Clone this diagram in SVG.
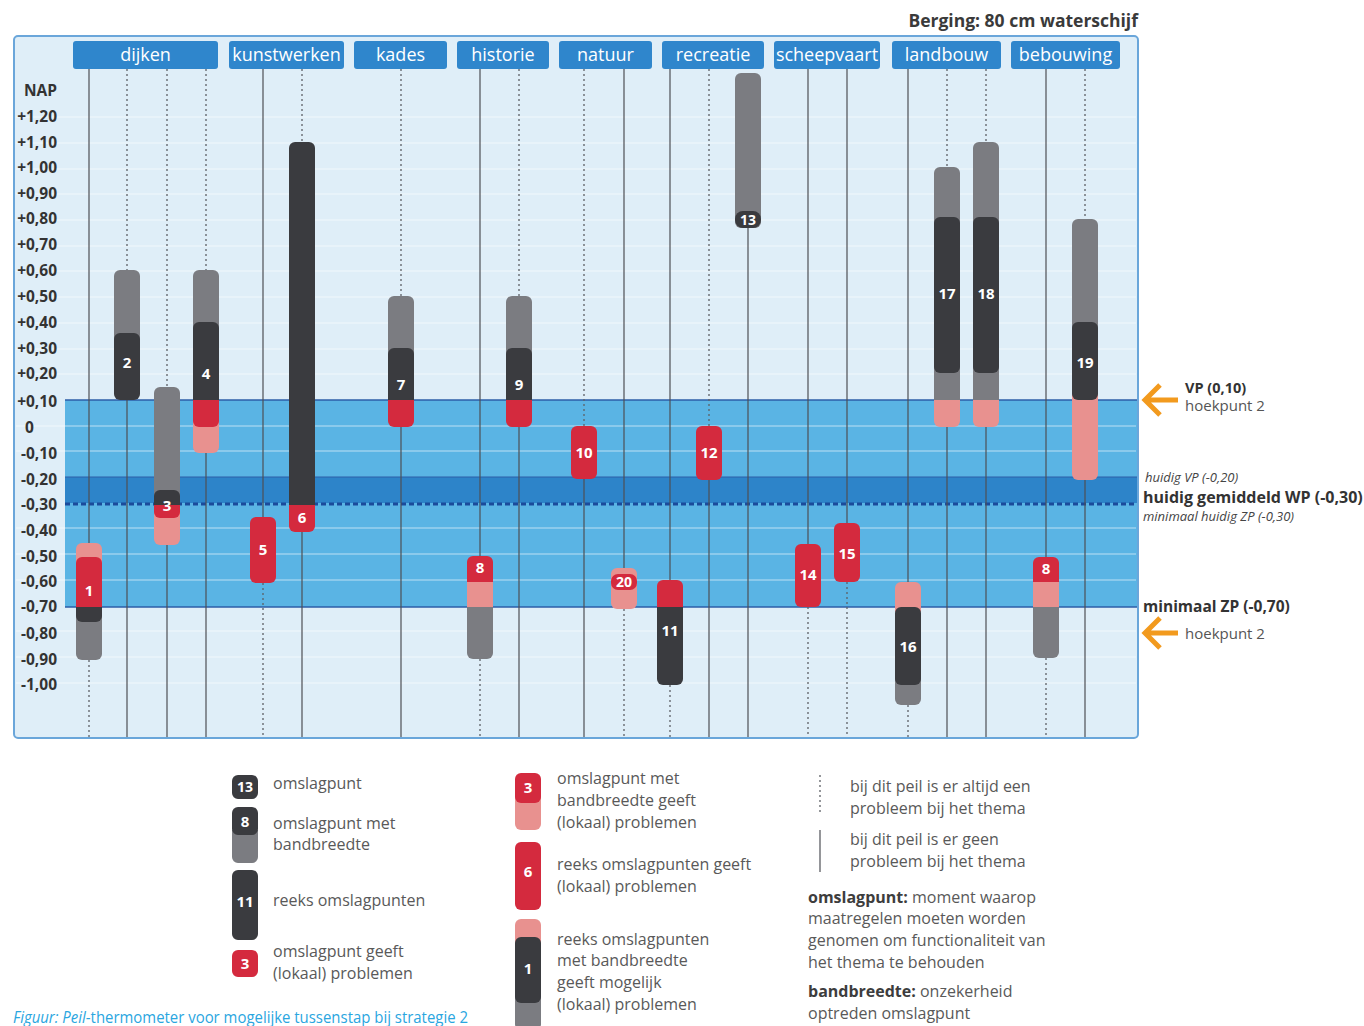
<svg xmlns="http://www.w3.org/2000/svg" width="1364" height="1026" viewBox="0 0 1364 1026">
<style>
text{font-family:"Open Sans","Noto Sans","Liberation Sans",sans-serif}
.tab{fill:#2f86cc}
.tabt{fill:#fff;font-size:18px;text-anchor:middle}
.ax{fill:#333;font-size:15.5px;font-weight:bold;text-anchor:end}
.num{fill:#fff;font-size:15px;font-weight:bold;text-anchor:middle}
.g{fill:#7b7c81}.d{fill:#3a3b3f}.r{fill:#d42a3e}.p{fill:#e8918f}
.ls{stroke:#4d4f55;stroke-width:1.2;fill:none}
.ld{stroke:#5d6066;stroke-width:1.3;stroke-dasharray:2 3;fill:none}
.lg{fill:#595959;font-size:16px}
.lgb{fill:#3d3d3d;font-weight:bold}
.rl{fill:#333;font-size:15.5px;font-weight:bold}
.rs{fill:#555;font-size:15px}
.ri{fill:#444;font-size:13px;font-style:italic}
.arr{stroke:#f29a1e;stroke-width:5;fill:none}
.stripe{stroke:#fff;stroke-opacity:0.4;stroke-width:1.5}
</style>

<!-- frame & background -->
<g id="chart-bg">
<rect x="14" y="36" width="1124" height="702" rx="4" fill="#dfeef8" stroke="#6aa6da" stroke-width="2"/>
<rect x="65" y="400" width="1072" height="207" fill="#5ab4e4"/>
<rect x="65" y="477" width="1072" height="26" fill="#2d84c9"/>
<g class="stripe">
<line x1="16" y1="117" x2="1136" y2="117"/><line x1="16" y1="143" x2="1136" y2="143"/>
<line x1="16" y1="169" x2="1136" y2="169"/><line x1="16" y1="194" x2="1136" y2="194"/>
<line x1="16" y1="220" x2="1136" y2="220"/><line x1="16" y1="246" x2="1136" y2="246"/>
<line x1="16" y1="271" x2="1136" y2="271"/><line x1="16" y1="297" x2="1136" y2="297"/>
<line x1="16" y1="323" x2="1136" y2="323"/><line x1="16" y1="349" x2="1136" y2="349"/>
<line x1="16" y1="374" x2="1136" y2="374"/><line x1="16" y1="426" x2="1136" y2="426"/>
<line x1="16" y1="451" x2="1136" y2="451"/><line x1="16" y1="528" x2="1136" y2="528"/>
<line x1="16" y1="554" x2="1136" y2="554"/><line x1="16" y1="580" x2="1136" y2="580"/>
<line x1="16" y1="631" x2="1136" y2="631"/><line x1="16" y1="657" x2="1136" y2="657"/>
<line x1="16" y1="683" x2="1136" y2="683"/>
</g>
<line x1="65" y1="400" x2="1137" y2="400" stroke="#2c5ea8" stroke-width="1.5"/>
<line x1="65" y1="477" x2="1137" y2="477" stroke="#2c5ea8" stroke-width="1"/>
<line x1="65" y1="607" x2="1137" y2="607" stroke="#2c5ea8" stroke-width="1.5"/>
<line x1="65" y1="504" x2="1137" y2="504" stroke="#1b4b9b" stroke-width="3" stroke-dasharray="5 3"/>
</g>

<!-- axis labels -->
<g id="axis">
<text class="ax" x="57" y="96">NAP</text>
<text class="ax" x="57" y="122">+1,20</text>
<text class="ax" x="57" y="148">+1,10</text>
<text class="ax" x="57" y="173">+1,00</text>
<text class="ax" x="57" y="199">+0,90</text>
<text class="ax" x="57" y="224">+0,80</text>
<text class="ax" x="57" y="250">+0,70</text>
<text class="ax" x="57" y="276">+0,60</text>
<text class="ax" x="57" y="302">+0,50</text>
<text class="ax" x="57" y="328">+0,40</text>
<text class="ax" x="57" y="354">+0,30</text>
<text class="ax" x="57" y="379">+0,20</text>
<text class="ax" x="57" y="407">+0,10</text>
<text class="ax" x="25" y="433" style="text-anchor:start">0</text>
<text class="ax" x="57" y="459">-0,10</text>
<text class="ax" x="57" y="485">-0,20</text>
<text class="ax" x="57" y="510">-0,30</text>
<text class="ax" x="57" y="536">-0,40</text>
<text class="ax" x="57" y="562">-0,50</text>
<text class="ax" x="57" y="587">-0,60</text>
<text class="ax" x="57" y="612">-0,70</text>
<text class="ax" x="57" y="639">-0,80</text>
<text class="ax" x="57" y="665">-0,90</text>
<text class="ax" x="57" y="690">-1,00</text>
</g>

<!-- theme tabs -->
<g id="tabs">
<rect class="tab" x="73" y="41" width="145" height="28" rx="3"/><text class="tabt" x="145.5" y="61">dijken</text>
<rect class="tab" x="229" y="41" width="115" height="28" rx="3"/><text class="tabt" x="286.5" y="61">kunstwerken</text>
<rect class="tab" x="354" y="41" width="93" height="28" rx="3"/><text class="tabt" x="400.5" y="61">kades</text>
<rect class="tab" x="457" y="41" width="92" height="28" rx="3"/><text class="tabt" x="503" y="61">historie</text>
<rect class="tab" x="559" y="41" width="93" height="28" rx="3"/><text class="tabt" x="605.5" y="61">natuur</text>
<rect class="tab" x="662" y="41" width="102" height="28" rx="3"/><text class="tabt" x="713" y="61">recreatie</text>
<rect class="tab" x="774" y="41" width="106" height="28" rx="3"/><text class="tabt" x="827" y="61">scheepvaart</text>
<rect class="tab" x="892" y="41" width="109" height="28" rx="3"/><text class="tabt" x="946.5" y="61">landbouw</text>
<rect class="tab" x="1011" y="41" width="109" height="28" rx="3"/><text class="tabt" x="1065.5" y="61">bebouwing</text>
</g>

<!-- connectors: vertical theme lines -->
<g id="connectors">
<line class="ls" x1="89" y1="69" x2="89" y2="543"/><line class="ld" x1="89" y1="660" x2="89" y2="737"/>
<line class="ld" x1="127" y1="69" x2="127" y2="270"/><line class="ls" x1="127" y1="400" x2="127" y2="737"/>
<line class="ld" x1="167" y1="69" x2="167" y2="387"/><line class="ls" x1="167" y1="545" x2="167" y2="737"/>
<line class="ld" x1="206" y1="69" x2="206" y2="270"/><line class="ls" x1="206" y1="453" x2="206" y2="737"/>
<line class="ls" x1="263" y1="69" x2="263" y2="517"/><line class="ld" x1="263" y1="583" x2="263" y2="737"/>
<line class="ld" x1="302" y1="69" x2="302" y2="142"/><line class="ls" x1="302" y1="532" x2="302" y2="737"/>
<line class="ld" x1="401" y1="69" x2="401" y2="296"/><line class="ls" x1="401" y1="427" x2="401" y2="737"/>
<line class="ls" x1="480" y1="69" x2="480" y2="556"/><line class="ld" x1="480" y1="659" x2="480" y2="737"/>
<line class="ld" x1="519" y1="69" x2="519" y2="296"/><line class="ls" x1="519" y1="427" x2="519" y2="737"/>
<line class="ld" x1="584" y1="69" x2="584" y2="426"/><line class="ls" x1="584" y1="479" x2="584" y2="737"/>
<line class="ls" x1="624" y1="69" x2="624" y2="568"/><line class="ld" x1="624" y1="609" x2="624" y2="737"/>
<line class="ls" x1="670" y1="69" x2="670" y2="580"/><line class="ld" x1="670" y1="685" x2="670" y2="737"/>
<line class="ld" x1="709" y1="69" x2="709" y2="426"/><line class="ls" x1="709" y1="480" x2="709" y2="737"/>
<line class="ls" x1="748" y1="228" x2="748" y2="737"/>
<line class="ls" x1="808" y1="69" x2="808" y2="544"/><line class="ld" x1="808" y1="607" x2="808" y2="737"/>
<line class="ls" x1="847" y1="69" x2="847" y2="523"/><line class="ld" x1="847" y1="582" x2="847" y2="737"/>
<line class="ls" x1="908" y1="69" x2="908" y2="582"/><line class="ld" x1="908" y1="705" x2="908" y2="737"/>
<line class="ld" x1="947" y1="69" x2="947" y2="167"/><line class="ls" x1="947" y1="427" x2="947" y2="737"/>
<line class="ld" x1="986" y1="69" x2="986" y2="142"/><line class="ls" x1="986" y1="427" x2="986" y2="737"/>
<line class="ls" x1="1046" y1="69" x2="1046" y2="557"/><line class="ld" x1="1046" y1="658" x2="1046" y2="737"/>
<line class="ld" x1="1085" y1="69" x2="1085" y2="219"/><line class="ls" x1="1085" y1="480" x2="1085" y2="737"/>
</g>

<!-- bars -->
<g id="bar-1">
<path class="p" d="M76 563V549a6 6 0 0 1 6-6h14a6 6 0 0 1 6 6V563Z"/>
<path class="g" d="M76 614H102V654a6 6 0 0 1-6 6h-14a6 6 0 0 1-6-6Z"/>
<path class="r" d="M76 607V563a6 6 0 0 1 6-6h14a6 6 0 0 1 6 6V607Z"/>
<path class="d" d="M76 607H102V616a6 6 0 0 1-6 6h-14a6 6 0 0 1-6-6Z"/>
<text class="num" x="89" y="596">1</text>
</g>
<g id="bar-2">
<path class="g" d="M114 340V276a6 6 0 0 1 6-6h14a6 6 0 0 1 6 6V340Z"/>
<rect class="d" x="114" y="333" width="26" height="67" rx="6"/>
<text class="num" x="127" y="368">2</text>
</g>
<g id="bar-3">
<path class="g" d="M154 497V393a6 6 0 0 1 6-6h14a6 6 0 0 1 6 6V497Z"/>
<path class="p" d="M154 512H180V539a6 6 0 0 1-6 6h-14a6 6 0 0 1-6-6Z"/>
<path class="d" d="M154 506V496a6 6 0 0 1 6-6h14a6 6 0 0 1 6 6V506Z"/>
<path class="r" d="M154 505H180V512a6 6 0 0 1-6 6h-14a6 6 0 0 1-6-6Z"/>
<text class="num" x="167" y="511">3</text>
</g>
<g id="bar-4">
<path class="g" d="M193 330V276a6 6 0 0 1 6-6h14a6 6 0 0 1 6 6V330Z"/>
<path class="p" d="M193 420H219V447a6 6 0 0 1-6 6h-14a6 6 0 0 1-6-6Z"/>
<path class="d" d="M193 400V328a6 6 0 0 1 6-6h14a6 6 0 0 1 6 6V400Z"/>
<path class="r" d="M193 400H219V421a6 6 0 0 1-6 6h-14a6 6 0 0 1-6-6Z"/>
<text class="num" x="206" y="379">4</text>
</g>
<g id="bar-5">
<rect class="r" x="250" y="517" width="26" height="66" rx="6"/>
<text class="num" x="263" y="555">5</text>
</g>
<g id="bar-6">
<path class="d" d="M289 505V148a6 6 0 0 1 6-6h14a6 6 0 0 1 6 6V505Z"/>
<path class="r" d="M289 505H315V526a6 6 0 0 1-6 6h-14a6 6 0 0 1-6-6Z"/>
<text class="num" x="302" y="523">6</text>
</g>
<g id="bar-7">
<path class="g" d="M388 355V302a6 6 0 0 1 6-6h14a6 6 0 0 1 6 6V355Z"/>
<path class="d" d="M388 400V354a6 6 0 0 1 6-6h14a6 6 0 0 1 6 6V400Z"/>
<path class="r" d="M388 400H414V421a6 6 0 0 1-6 6h-14a6 6 0 0 1-6-6Z"/>
<text class="num" x="401" y="390">7</text>
</g>
<g id="bar-8a">
<path class="r" d="M467 582V562a6 6 0 0 1 6-6h14a6 6 0 0 1 6 6V582Z"/>
<rect class="p" x="467" y="582" width="26" height="25"/>
<path class="g" d="M467 607H493V653a6 6 0 0 1-6 6h-14a6 6 0 0 1-6-6Z"/>
<text class="num" x="480" y="573">8</text>
</g>
<g id="bar-9">
<path class="g" d="M506 355V302a6 6 0 0 1 6-6h14a6 6 0 0 1 6 6V355Z"/>
<path class="d" d="M506 400V354a6 6 0 0 1 6-6h14a6 6 0 0 1 6 6V400Z"/>
<path class="r" d="M506 400H532V421a6 6 0 0 1-6 6h-14a6 6 0 0 1-6-6Z"/>
<text class="num" x="519" y="390">9</text>
</g>
<g id="bar-10">
<rect class="r" x="571" y="426" width="26" height="53" rx="6"/>
<text class="num" x="584" y="458">10</text>
</g>
<g id="bar-20">
<rect class="p" x="611" y="568" width="26" height="41" rx="6"/>
<rect class="r" x="611" y="574" width="26" height="16" rx="7"/>
<text class="num" x="624" y="587" style="font-size:14px">20</text>
</g>
<g id="bar-11">
<path class="r" d="M657 612V586a6 6 0 0 1 6-6h14a6 6 0 0 1 6 6V612Z"/>
<path class="d" d="M657 607H683V679a6 6 0 0 1-6 6h-14a6 6 0 0 1-6-6Z"/>
<text class="num" x="670" y="636">11</text>
</g>
<g id="bar-12">
<rect class="r" x="696" y="426" width="26" height="54" rx="6"/>
<text class="num" x="709" y="458">12</text>
</g>
<g id="bar-13">
<rect class="g" x="735" y="73" width="26" height="155" rx="6"/>
<rect class="d" x="735" y="211" width="26" height="17" rx="8"/>
<text class="num" x="748" y="225" style="font-size:14px">13</text>
</g>
<g id="bar-14">
<rect class="r" x="795" y="544" width="26" height="63" rx="6"/>
<text class="num" x="808" y="580">14</text>
</g>
<g id="bar-15">
<rect class="r" x="834" y="523" width="26" height="59" rx="6"/>
<text class="num" x="847" y="559">15</text>
</g>
<g id="bar-16">
<path class="p" d="M895 612V588a6 6 0 0 1 6-6h14a6 6 0 0 1 6 6V612Z"/>
<path class="g" d="M895 678H921V699a6 6 0 0 1-6 6h-14a6 6 0 0 1-6-6Z"/>
<rect class="d" x="895" y="607" width="26" height="78" rx="6"/>
<text class="num" x="908" y="652">16</text>
</g>
<g id="bar-17">
<path class="g" d="M934 400V173a6 6 0 0 1 6-6h14a6 6 0 0 1 6 6V400Z"/>
<path class="p" d="M934 400H960V421a6 6 0 0 1-6 6h-14a6 6 0 0 1-6-6Z"/>
<rect class="d" x="934" y="217" width="26" height="156" rx="6"/>
<text class="num" x="947" y="299">17</text>
</g>
<g id="bar-18">
<path class="g" d="M973 400V148a6 6 0 0 1 6-6h14a6 6 0 0 1 6 6V400Z"/>
<path class="p" d="M973 400H999V421a6 6 0 0 1-6 6h-14a6 6 0 0 1-6-6Z"/>
<rect class="d" x="973" y="217" width="26" height="156" rx="6"/>
<text class="num" x="986" y="299">18</text>
</g>
<g id="bar-8b">
<path class="r" d="M1033 582V563a6 6 0 0 1 6-6h14a6 6 0 0 1 6 6V582Z"/>
<rect class="p" x="1033" y="582" width="26" height="25"/>
<path class="g" d="M1033 607H1059V652a6 6 0 0 1-6 6h-14a6 6 0 0 1-6-6Z"/>
<text class="num" x="1046" y="574">8</text>
</g>
<g id="bar-19">
<path class="g" d="M1072 330V225a6 6 0 0 1 6-6h14a6 6 0 0 1 6 6V330Z"/>
<path class="p" d="M1072 394H1098V474a6 6 0 0 1-6 6h-14a6 6 0 0 1-6-6Z"/>
<rect class="d" x="1072" y="322" width="26" height="78" rx="6"/>
<text class="num" x="1085" y="368">19</text>
</g>

<!-- title & right-side annotations -->
<g id="title">
<text x="1138" y="27" style="fill:#3a3a3a;font-size:17.5px;font-weight:bold;text-anchor:end">Berging: 80 cm waterschijf</text>
</g>
<g id="annot-vp">
<path class="arr" d="M1178 400H1146M1160 385L1145 400L1160 415"/>
<text class="rl" x="1185" y="393" style="font-size:14.5px">VP (0,10)</text>
<text class="rs" x="1185" y="411">hoekpunt 2</text>
</g>
<g id="annot-wp">
<text class="ri" x="1145" y="482">huidig VP (-0,20)</text>
<text class="rl" x="1143" y="503" style="font-size:16px">huidig gemiddeld WP (-0,30)</text>
<text class="ri" x="1143" y="521">minimaal huidig ZP (-0,30)</text>
</g>
<g id="annot-zp">
<text class="rl" x="1143" y="612">minimaal ZP (-0,70)</text>
<path class="arr" d="M1178 633H1146M1160 618L1145 633L1160 648"/>
<text class="rs" x="1185" y="639">hoekpunt 2</text>
</g>

<!-- legend -->
<g id="legend-1">
<rect class="d" x="232" y="775" width="26" height="24" rx="6"/>
<text class="num" x="245" y="792" style="font-size:14px">13</text>
<text class="lg" x="273" y="789">omslagpunt</text>
<path class="g" d="M232 830H258V857a6 6 0 0 1-6 6h-14a6 6 0 0 1-6-6Z"/>
<rect class="d" x="232" y="807" width="26" height="28" rx="6"/>
<text class="num" x="245" y="827">8</text>
<text class="lg" x="273" y="829">omslagpunt met</text>
<text class="lg" x="273" y="850">bandbreedte</text>
<rect class="d" x="232" y="870" width="26" height="70" rx="6"/>
<text class="num" x="245" y="907">11</text>
<text class="lg" x="273" y="906">reeks omslagpunten</text>
<rect class="r" x="232" y="950" width="26" height="27" rx="6"/>
<text class="num" x="245" y="969">3</text>
<text class="lg" x="273" y="957">omslagpunt geeft</text>
<text class="lg" x="273" y="979">(lokaal) problemen</text>
</g>
<g id="legend-2">
<path class="p" d="M515 795H541V824a6 6 0 0 1-6 6h-14a6 6 0 0 1-6-6Z"/>
<rect class="r" x="515" y="773" width="26" height="30" rx="6"/>
<text class="num" x="528" y="793">3</text>
<text class="lg" x="557" y="784">omslagpunt met</text>
<text class="lg" x="557" y="806">bandbreedte geeft</text>
<text class="lg" x="557" y="828">(lokaal) problemen</text>
<rect class="r" x="515" y="842" width="26" height="68" rx="6"/>
<text class="num" x="528" y="877">6</text>
<text class="lg" x="557" y="870">reeks omslagpunten geeft</text>
<text class="lg" x="557" y="892">(lokaal) problemen</text>
<path class="p" d="M515 945V925a6 6 0 0 1 6-6h14a6 6 0 0 1 6 6V945Z"/>
<path class="g" d="M515 995H541V1024a6 6 0 0 1-6 6h-14a6 6 0 0 1-6-6Z"/>
<rect class="d" x="515" y="937" width="26" height="66" rx="6"/>
<text class="num" x="528" y="974">1</text>
<text class="lg" x="557" y="945">reeks omslagpunten</text>
<text class="lg" x="557" y="966">met bandbreedte</text>
<text class="lg" x="557" y="988">geeft mogelijk</text>
<text class="lg" x="557" y="1010">(lokaal) problemen</text>
</g>
<g id="legend-3">
<line class="ld" x1="820" y1="775" x2="820" y2="815"/>
<text class="lg" x="850" y="792">bij dit peil is er altijd een</text>
<text class="lg" x="850" y="814">probleem bij het thema</text>
<line class="ls" x1="820" y1="830" x2="820" y2="872"/>
<text class="lg" x="850" y="845">bij dit peil is er geen</text>
<text class="lg" x="850" y="867">probleem bij het thema</text>
<text class="lg" x="808" y="903"><tspan class="lgb">omslagpunt:</tspan> moment waarop</text>
<text class="lg" x="808" y="924">maatregelen moeten worden</text>
<text class="lg" x="808" y="946">genomen om functionaliteit van</text>
<text class="lg" x="808" y="968">het thema te behouden</text>
<text class="lg" x="808" y="997"><tspan class="lgb">bandbreedte:</tspan> onzekerheid</text>
<text class="lg" x="808" y="1019">optreden omslagpunt</text>
</g>

<g id="caption">
<text x="13" y="1023" textLength="455" lengthAdjust="spacingAndGlyphs" style="fill:#2aa6df;font-size:16px"><tspan font-style="italic">Figuur: Peil</tspan>-thermometer voor mogelijke tussenstap bij strategie 2</text>
</g>
</svg>
